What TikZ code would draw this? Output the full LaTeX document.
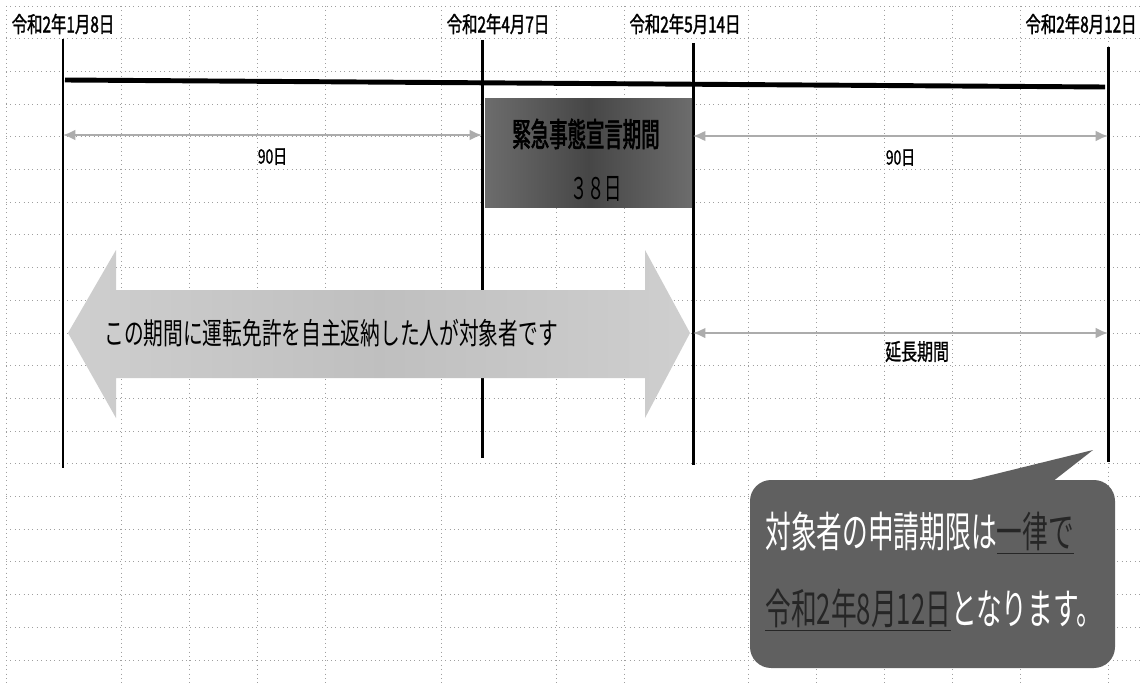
\documentclass[tikz,border=0pt]{standalone}
\usepackage{fontspec}
\usetikzlibrary{arrows.meta}
\newfontfamily\jpdate[FakeStretch=0.7,FakeBold=1.5]{Noto Sans CJK JP}
\newfontfamily\jplabel[FakeStretch=0.7,FakeBold=1]{Noto Sans CJK JP}
\newfontfamily\jptitle[FakeStretch=0.56,FakeBold=2]{Noto Sans CJK JP}
\newfontfamily\jpnarrow[FakeStretch=0.58]{Noto Sans CJK JP}
\newfontfamily\jpbubble[FakeStretch=0.61]{Noto Sans CJK JP}
\newfontfamily\jpmid[FakeStretch=0.66]{Noto Sans CJK JP}
\tikzset{
  gridline/.style={gray!75, dotted, line width=0.5pt},
  dateline/.style={black, line width=1.7pt},
  periodarrow/.style={{Latex[length=7pt,width=6pt]}-{Latex[length=7pt,width=6pt]}, gray!65, line width=1.1pt},
  datelabel/.style={font=\jpdate\fontsize{12.5}{13}\selectfont, inner sep=0pt},
  spanlabel/.style={font=\jplabel\fontsize{11.3}{12}\selectfont, inner sep=0pt, text=black},
  bubblefill/.style={fill=gray!75!black},
}
\begin{document}
\begin{tikzpicture}[x=0.02cm,y=-0.02cm]
\useasboundingbox[fill=white] (0,0) rectangle (1142,686);
% sheet grid
\foreach \k in {0,...,20}
  \draw[gridline] (6,{6+32.7*\k}) -- (1142,{6+32.7*\k});
\foreach \gx in {6,121,189,257,325,441,556,624,748,816,884,952,1020,1108}
  \draw[gridline] (\gx,6) -- (\gx,686);

% dates
\node[datelabel] (lbl-jan) at (63,24) {令和2年1月8日};
\node[datelabel] (lbl-apr) at (498,24) {令和2年4月7日};
\node[datelabel] (lbl-may) at (685,24) {令和2年5月14日};
\node[datelabel] (lbl-aug) at (1081,24) {令和2年8月12日};

\coordinate (jan-top) at (63,39);   \coordinate (jan-bot) at (63,468);
\coordinate (apr-top) at (482,40);  \coordinate (apr-bot) at (482,458);
\coordinate (may-top) at (693,43);  \coordinate (may-bot) at (693,465);
\coordinate (aug-top) at (1108,47); \coordinate (aug-bot) at (1108,462);
\draw[dateline] (jan-top) -- (jan-bot);
\draw[dateline] (apr-top) -- (apr-bot);
\draw[dateline] (may-top) -- (may-bot);
\draw[dateline] (aug-top) -- (aug-bot);

% time bar
\coordinate (bar-l) at (65,80);
\coordinate (bar-r) at (1105,87);
\draw[line width=2.8pt] (bar-l) -- (bar-r);

% 90 days before / after
\coordinate (jan-a) at (63,135);  \coordinate (apr-a) at (482,135);
\coordinate (may-a) at (693,136); \coordinate (aug-a) at (1108,136);
\draw[periodarrow] (jan-a) -- node[spanlabel, below=7pt] (lbl-before) {90日} (apr-a);
\draw[periodarrow] (may-a) -- node[spanlabel, below=7pt] (lbl-after) {90日} (aug-a);

% emergency period
\shade[left color=gray!85!black, right color=gray!85!black, middle color=gray!55!black]
  (485,99) rectangle (692,207);
\node[font=\jptitle\fontsize{18.7}{19}\selectfont, inner sep=0pt] (title) at (586,134) {緊急事態宣言期間};
\node[font=\jpnarrow\fontsize{17}{17}\selectfont, inner sep=0pt] (days) at (596,189) {３８日};

% target period
\shade[left color=gray!38, right color=gray!38, middle color=gray!50]
  (68,333) -- (116,250) -- (116,290) -- (645,290) -- (645,250) -- (690,333)
  -- (645,418) -- (645,378) -- (116,378) -- (116,418) -- cycle;
\node[font=\jpmid\fontsize{17}{17}\selectfont, inner sep=0pt, anchor=west] (notice) at (104,333)
  {この期間に運転免許を自主返納した人が対象者です};

% extension
\coordinate (may-e) at (693,333); \coordinate (aug-e) at (1108,333);
\draw[periodarrow] (may-e) -- node[spanlabel, font=\jplabel\fontsize{13}{13}\selectfont, below=4pt, pos=0.54] (lbl-ext) {延長期間} (aug-e);

% callout
\fill[bubblefill] (963,482) -- (1093,450) -- (1052,482) -- cycle;
\fill[bubblefill, rounded corners=12pt] (750,480) rectangle (1115,668);
\node[font=\jpbubble\fontsize{24}{24}\selectfont, inner sep=0pt, anchor=west, text=white] (deadline-a) at (765,533)
  {対象者の申請期限は\textcolor{black!85}{\underline{一律で}}};
\node[font=\jpbubble\fontsize{24}{24}\selectfont, inner sep=0pt, anchor=west, text=white] (deadline-b) at (765,610)
  {\textcolor{black!85}{\underline{令和2年8月12日}}となります。};
\end{tikzpicture}
\end{document}
